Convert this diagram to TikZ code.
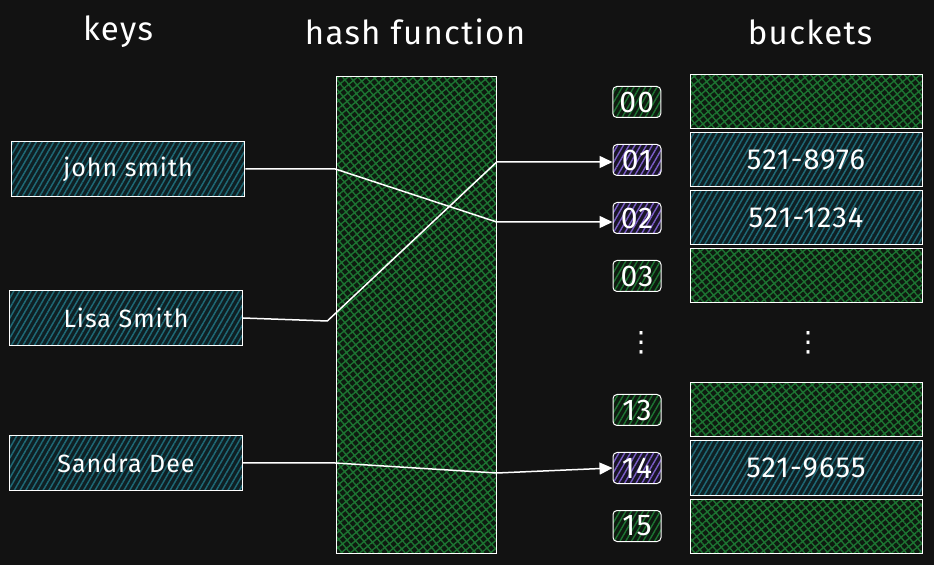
\documentclass[tikz,border=0pt]{standalone}
\usepackage{fontspec}
\setmainfont{Fira Sans}
\newfontfamily\handfont[LetterSpace=4]{Fira Sans}
\newfontfamily\symfont{DejaVu Sans}
\usetikzlibrary{positioning, calc, arrows.meta, patterns.meta}
\definecolor{bgdark}{HTML}{121212}
\definecolor{tealbase}{HTML}{0F2024}
\definecolor{tealline}{HTML}{1F6875}
\definecolor{greenbase}{HTML}{0E1A10}
\definecolor{greenline}{HTML}{1D7432}
\definecolor{purplebase}{HTML}{191527}
\definecolor{purpleline}{HTML}{7C5EC8}
\tikzset{
  title/.style={text=white, font=\handfont\fontsize{33}{36}\selectfont},
  keybox/.style={draw=white!85, line width=1pt, minimum width=233pt, minimum height=55pt,
    preaction={fill=tealbase}, pattern={Lines[angle=60,distance=5pt,line width=1.5pt]},
    pattern color=tealline, text=white, font=\handfont\fontsize{25}{28}\selectfont},
  hashbox/.style={draw=white!85, line width=1pt, minimum width=160pt, minimum height=476pt,
    preaction={fill=greenbase}, pattern={Hatch[angle=40,distance=6pt,line width=1.4pt]},
    pattern color=greenline},
  emptybucket/.style={draw=white!85, line width=1pt, minimum width=232pt, minimum height=54pt,
    preaction={fill=greenbase}, pattern={Hatch[angle=40,distance=6pt,line width=1.4pt]},
    pattern color=greenline},
  fullbucket/.style={emptybucket, preaction={fill=tealbase},
    pattern={Lines[angle=60,distance=5pt,line width=1.5pt]}, pattern color=tealline,
    text=white, font=\handfont\fontsize{29}{32}\selectfont},
  freeslot/.style={draw=white!85, line width=1pt, rounded corners=4pt, minimum width=48pt,
    minimum height=31pt, inner sep=0pt, preaction={fill=greenbase},
    pattern={Lines[angle=60,distance=5pt,line width=1.4pt]}, pattern color=greenline,
    text=white, font=\handfont\fontsize{30}{30}\selectfont},
  usedslot/.style={freeslot, preaction={fill=purplebase}, pattern color=purpleline},
  gap/.style={text=white, font=\symfont\fontsize{28}{30}\selectfont},
  link/.style={draw=white!92, line width=1.5pt, line join=round, -{Triangle[length=13pt,width=12pt]}}
}
\begin{document}
\begin{tikzpicture}[x=1pt, y=1pt]
    \fill [bgdark] (0,0) rectangle (934,565);
    % Titles
    \node (keyst) [title] at (118,533) {keys};
    \node (hasht) [title] at (415,533) {hash function};
    \node (buckt) [title] at (810,533) {buckets};

    % Keys and hash function
    \node (john) [keybox] at (128,396) {john smith};
    \node (lisa) [keybox] at (126,247) {Lisa Smith};
    \node (sandra) [keybox] at (126,102) {Sandra Dee};
    \node (hash) [hashbox] at (416,250) {};

    % Buckets
    \node (b00) [emptybucket] at (806,463) {};
    \node (b01) [fullbucket, below=3pt of b00] {521-8976};
    \node (b02) [fullbucket, below=3pt of b01] {521-1234};
    \node (b03) [emptybucket, below=3pt of b02] {};
    \node (b13) [emptybucket] at (806,155) {};
    \node (b14) [fullbucket, below=3pt of b13] {521-9655};
    \node (b15) [emptybucket, below=3pt of b14] {};

    % Slot numbers
    \node (i00) [freeslot, left=28pt of b00] {00};
    \node (i01) [usedslot, left=28pt of b01] {01};
    \node (i02) [usedslot, left=28pt of b02] {02};
    \node (i03) [freeslot, left=28pt of b03] {03};
    \node (i13) [freeslot, left=28pt of b13] {13};
    \node (i14) [usedslot, left=28pt of b14] {14};
    \node (i15) [freeslot, left=28pt of b15] {15};
    \node (idots) [gap] at (641,222) {⋮};
    \node (bdots) [gap] at (808,222) {⋮};

    % Arrows
    \draw [link] (john.east) -- (john.east -| hash.west) -- ($(hash.east |- i02.west)+(0,-4)$) -- ([yshift=-4pt]i02.west);
    \draw [link] (lisa.east) -- ($(lisa.east -| hash.west)+(-8,-3)$) -- ($(hash.east |- i01.west)+(0,-2)$) -- ([yshift=-2pt]i01.west);
    \draw [link] (sandra.east) -- (sandra.east -| hash.west) -- ($(hash.east |- sandra.east)+(0,-10)$) -- (i14.west);
\end{tikzpicture}
\end{document}
